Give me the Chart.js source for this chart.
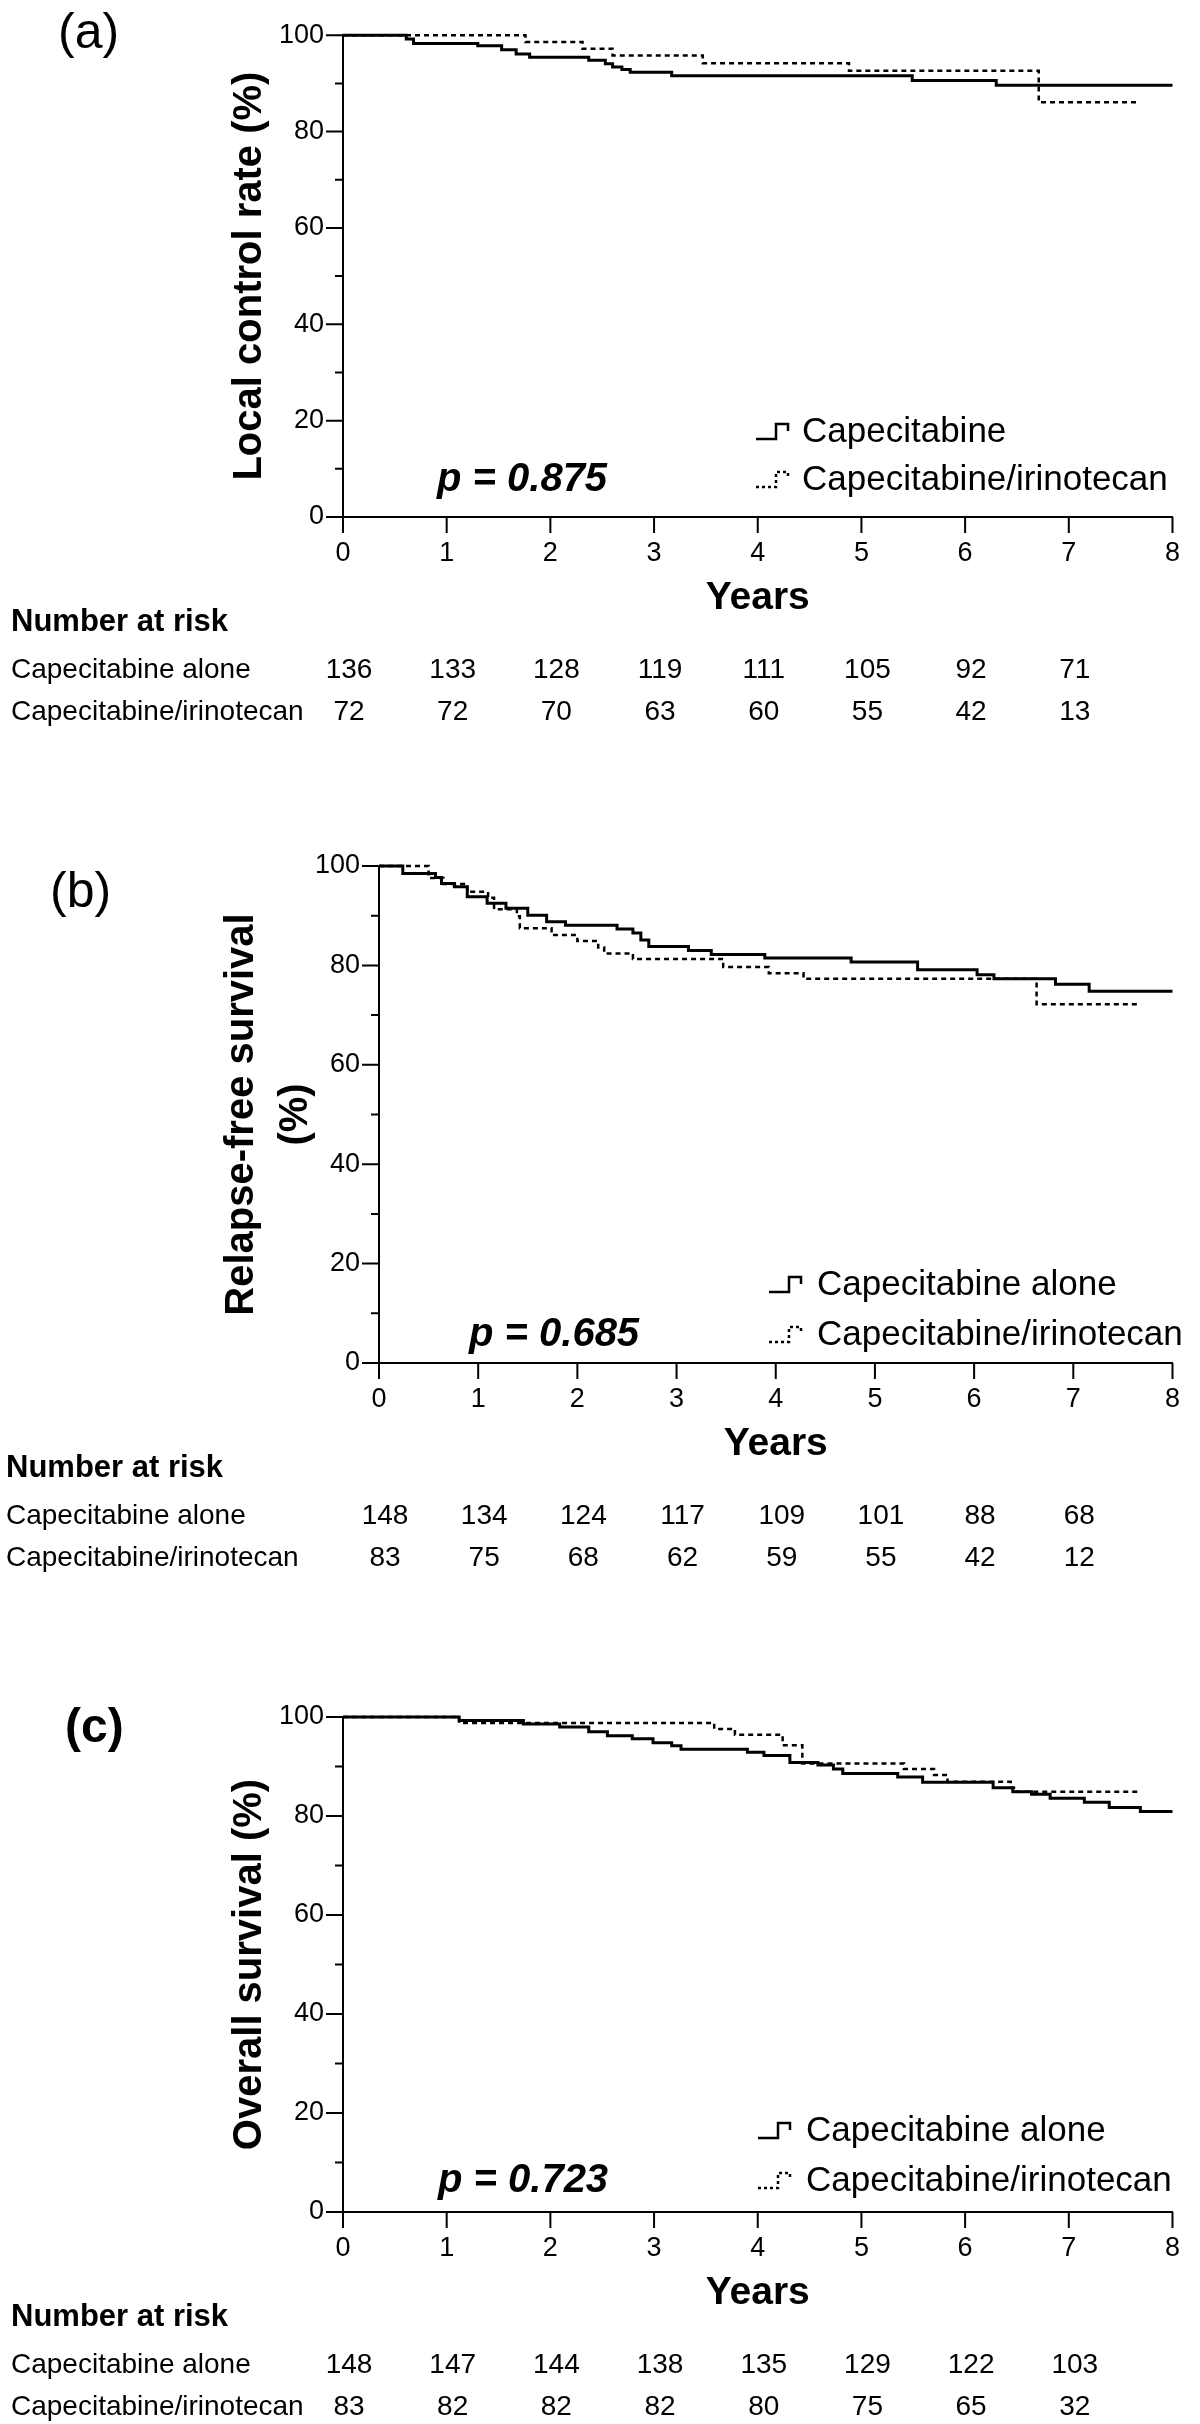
<!DOCTYPE html>
<html>
<head>
<meta charset="utf-8">
<script src="https://cdn.jsdelivr.net/npm/chart.js@4.4.0/dist/chart.umd.min.js"></script>
<style>
  html, body { margin: 0; padding: 0; background: #fff; }
  body { width: 1200px; height: 2424px; position: relative; overflow: hidden; }
  canvas { position: absolute; left: 0; }
</style>
</head>
<body>
<canvas id="chartA" width="1200" height="760" style="top:0px"></canvas>
<canvas id="chartB" width="1200" height="800" style="top:820px"></canvas>
<canvas id="chartC" width="1200" height="764" style="top:1660px"></canvas>
<script>
// x ticks (years) and y ticks (%)
const yearTicks = [0, 1, 2, 3, 4, 5, 6, 7, 8];
const pctTicks = [0, 20, 40, 60, 80, 100];

// (a) local control
const aCapeT = [0, 0.61, 0.68, 1.30, 1.53, 1.67, 1.80, 2.37, 2.53, 2.60, 2.69, 2.77, 3.17, 5.49, 6.30, 8.0];
const aCapeS = [100, 99.2, 98.3, 97.8, 97.0, 96.1, 95.4, 94.8, 94.1, 93.4, 92.9, 92.3, 91.6, 90.6, 89.6, 89.6];
const aIriT = [0, 1.76, 2.31, 2.60, 3.47, 4.88, 6.71, 7.67];
const aIriS = [100, 98.6, 97.2, 95.8, 94.2, 92.6, 86.1, 86.1];
const aRiskCape = [136, 133, 128, 119, 111, 105, 92, 71];
const aRiskIri = [72, 72, 70, 63, 60, 55, 42, 13];

// (b) relapse-free survival
const bCapeT = [0, 0.24, 0.57, 0.63, 0.76, 0.89, 1.09, 1.28, 1.50, 1.69, 1.88, 2.40, 2.56, 2.64, 2.72, 3.12, 3.35, 3.89, 4.76, 5.43, 6.03, 6.20, 6.82, 7.16, 8.0];
const bCapeS = [100, 98.5, 97.7, 96.5, 95.8, 93.8, 92.5, 91.5, 90.1, 88.8, 88.1, 87.3, 86.5, 85.1, 83.8, 83.0, 82.2, 81.5, 80.7, 79.1, 78.1, 77.3, 76.2, 74.8, 74.8];
const bIriT = [0, 0.50, 0.65, 0.89, 1.10, 1.16, 1.39, 1.42, 1.74, 2.00, 2.21, 2.27, 2.56, 3.47, 3.93, 4.28, 6.63, 7.68];
const bIriS = [100, 97.6, 96.4, 94.8, 93.6, 91.3, 89.9, 87.5, 86.1, 84.9, 83.6, 82.4, 81.3, 79.7, 78.4, 77.3, 72.2, 72.2];
const bRiskCape = [148, 134, 124, 117, 109, 101, 88, 68];
const bRiskIri = [83, 75, 68, 62, 59, 55, 42, 12];

// (c) overall survival
const cCapeT = [0, 1.12, 1.74, 2.09, 2.37, 2.55, 2.79, 2.99, 3.17, 3.26, 3.90, 4.06, 4.31, 4.58, 4.73, 4.82, 5.35, 5.59, 6.27, 6.46, 6.64, 6.82, 7.15, 7.39, 7.69, 8.0];
const cCapeS = [100, 99.3, 98.6, 98.0, 97.0, 96.2, 95.6, 94.8, 94.2, 93.5, 92.9, 92.2, 90.8, 90.3, 89.5, 88.6, 87.9, 86.8, 85.7, 84.9, 84.4, 83.6, 82.8, 81.7, 80.9, 80.9];
const cIriT = [0, 1.12, 3.58, 3.78, 4.24, 4.43, 5.41, 5.70, 5.83, 6.44, 6.49, 7.69];
const cIriS = [100, 98.8, 97.6, 96.4, 94.3, 90.6, 89.5, 88.3, 86.9, 85.7, 84.9, 84.9];
const cRiskCape = [148, 147, 144, 138, 135, 129, 122, 103];
const cRiskIri = [83, 82, 82, 82, 80, 75, 65, 32];

const FONT = "'Liberation Sans', Arial, Helvetica, sans-serif";

function toPoints(ts, ss) {
    return ts.map((t, i) => ({ x: t, y: ss[i] }));
}

const decor = {
    id: 'decor',
    afterDraw(chart, args, o) {
        const ctx = chart.ctx;
        const xs = chart.scales.x;
        const ys = chart.scales.y;
        const Y = v => v - o.top; // page y -> canvas y
        const base = ys.bottom;
        ctx.save();
        ctx.strokeStyle = '#000';
        ctx.fillStyle = '#000';
        ctx.lineWidth = 2;

        // tick marks, minor ones on y every 10
        ctx.beginPath();
        for (let v = 0; v <= 100; v += 10) {
            const py = ys.getPixelForValue(v);
            const len = pctTicks.includes(v) ? 17 : 8;
            ctx.moveTo(xs.left - len, py);
            ctx.lineTo(xs.left, py);
        }
        yearTicks.forEach(t => {
            const px = xs.getPixelForValue(t);
            ctx.moveTo(px, base);
            ctx.lineTo(px, base + 16);
        });
        ctx.stroke();

        // panel letter
        ctx.textBaseline = 'middle';
        ctx.textAlign = 'left';
        ctx.font = o.letterFont + ' ' + FONT;
        ctx.fillText(o.letter, o.letterX, Y(o.letterY));

        // y title (rotated)
        ctx.font = 'bold 40px ' + FONT;
        ctx.textAlign = 'center';
        const midY = (ys.top + ys.bottom) / 2;
        o.yTitle.forEach((line, i) => {
            ctx.save();
            ctx.translate(o.yTitleX[i], midY);
            ctx.rotate(-Math.PI / 2);
            ctx.fillText(line, 0, 0);
            ctx.restore();
        });

        // x title
        ctx.font = 'bold 39px ' + FONT;
        ctx.fillText('Years', (xs.left + xs.right) / 2, base + 81);

        // legend
        ctx.font = '35px ' + FONT;
        ctx.textAlign = 'left';
        o.legend.forEach((label, i) => {
            const cy = Y(o.legendY[i]);
            const sx = o.symbolX;
            ctx.save();
            ctx.lineWidth = 2.5;
            if (i === 1) ctx.setLineDash([3, 3]);
            ctx.beginPath();
            ctx.moveTo(sx, cy + 7);
            ctx.lineTo(sx + 20, cy + 7);
            ctx.lineTo(sx + 20, cy - 8);
            ctx.lineTo(sx + 32, cy - 8);
            ctx.lineTo(sx + 32, cy - 1);
            ctx.stroke();
            ctx.restore();
            ctx.fillText(label, o.legendX, cy);
        });

        // p value
        ctx.font = 'italic bold 40px ' + FONT;
        ctx.fillText(o.pText, o.pX, Y(o.legendY[1]));

        // number at risk table
        ctx.font = 'bold 31px ' + FONT;
        ctx.fillText('Number at risk', o.tableX, base + 105);
        ctx.font = '28px ' + FONT;
        const rows = [o.riskCape, o.riskIri];
        const rowY = [base + 153, base + 195];
        o.riskLabels.forEach((lab, r) => {
            ctx.textAlign = 'left';
            ctx.fillText(lab, o.tableX, rowY[r]);
            ctx.textAlign = 'center';
            rows[r].forEach((n, i) => {
                ctx.fillText(String(n), xs.getPixelForValue(yearTicks[i]) + 6, rowY[r]);
            });
        });
        ctx.restore();
    }
};

function makeChart(id, p) {
    const ctx = document.getElementById(id).getContext('2d');
    const canvasH = ctx.canvas.height;
    return new Chart(ctx, {
        type: 'line',
        data: {
            datasets: [
                {
                    data: toPoints(p.capeT, p.capeS),
                    borderColor: '#000',
                    borderWidth: 3,
                    pointRadius: 0,
                    stepped: 'before',
                    fill: false,
                    clip: false
                },
                {
                    data: toPoints(p.iriT, p.iriS),
                    borderColor: '#000',
                    borderWidth: 2.5,
                    borderDash: [5, 4],
                    pointRadius: 0,
                    stepped: 'before',
                    fill: false,
                    clip: false
                }
            ]
        },
        options: {
            responsive: false,
            animation: false,
            devicePixelRatio: 1,
            layout: {
                padding: { top: p.T - p.top, right: 1200 - p.R, bottom: 0, left: 0 }
            },
            plugins: {
                legend: { display: false },
                tooltip: { enabled: false },
                decor: p
            },
            scales: {
                x: {
                    type: 'linear',
                    min: 0,
                    max: 8,
                    afterFit: s => { s.height = canvasH - (p.B - p.top); },
                    grid: { display: false, drawTicks: false },
                    border: { display: true, color: '#000', width: 2 },
                    ticks: {
                        stepSize: 1,
                        padding: 20,
                        color: '#000',
                        font: { family: FONT, size: 27 }
                    }
                },
                y: {
                    min: 0,
                    max: 100,
                    afterFit: s => { s.width = p.L; },
                    grid: { display: false, drawTicks: false },
                    border: { display: true, color: '#000', width: 2 },
                    ticks: {
                        stepSize: 10,
                        padding: 19,
                        color: '#000',
                        font: { family: FONT, size: 27 },
                        callback: v => (pctTicks.includes(v) ? v : '')
                    }
                }
            }
        },
        plugins: [decor]
    });
}

makeChart('chartA', {
    top: 0, L: 343, R: 1186, T: 21, B: 517,
    capeT: aCapeT, capeS: aCapeS, iriT: aIriT, iriS: aIriS,
    riskCape: aRiskCape, riskIri: aRiskIri,
    letter: '(a)', letterFont: 'normal 50px', letterX: 58, letterY: 34,
    yTitle: ['Local control rate (%)'], yTitleX: [250],
    legend: ['Capecitabine', 'Capecitabine/irinotecan'], legendY: [432, 480],
    legendX: 802, symbolX: 756,
    pText: 'p = 0.875', pX: 437,
    tableX: 11, riskLabels: ['Capecitabine alone', 'Capecitabine/irinotecan']
});

makeChart('chartB', {
    top: 820, L: 379, R: 1178, T: 866, B: 1363,
    capeT: bCapeT, capeS: bCapeS, iriT: bIriT, iriS: bIriS,
    riskCape: bRiskCape, riskIri: bRiskIri,
    letter: '(b)', letterFont: 'normal 50px', letterX: 50, letterY: 893,
    yTitle: ['Relapse-free survival', '(%)'], yTitleX: [242, 296],
    legend: ['Capecitabine alone', 'Capecitabine/irinotecan'], legendY: [1285, 1335],
    legendX: 817, symbolX: 769,
    pText: 'p = 0.685', pX: 469,
    tableX: 6, riskLabels: ['Capecitabine alone', 'Capecitabine/irinotecan']
});

makeChart('chartC', {
    top: 1660, L: 343, R: 1186, T: 1717, B: 2212,
    capeT: cCapeT, capeS: cCapeS, iriT: cIriT, iriS: cIriS,
    riskCape: cRiskCape, riskIri: cRiskIri,
    letter: '(c)', letterFont: 'bold 48px', letterX: 65, letterY: 1729,
    yTitle: ['Overall survival (%)'], yTitleX: [250],
    legend: ['Capecitabine alone', 'Capecitabine/irinotecan'], legendY: [2131, 2181],
    legendX: 806, symbolX: 758,
    pText: 'p = 0.723', pX: 438,
    tableX: 11, riskLabels: ['Capecitabine alone', 'Capecitabine/irinotecan']
});
</script>
</body>
</html>
